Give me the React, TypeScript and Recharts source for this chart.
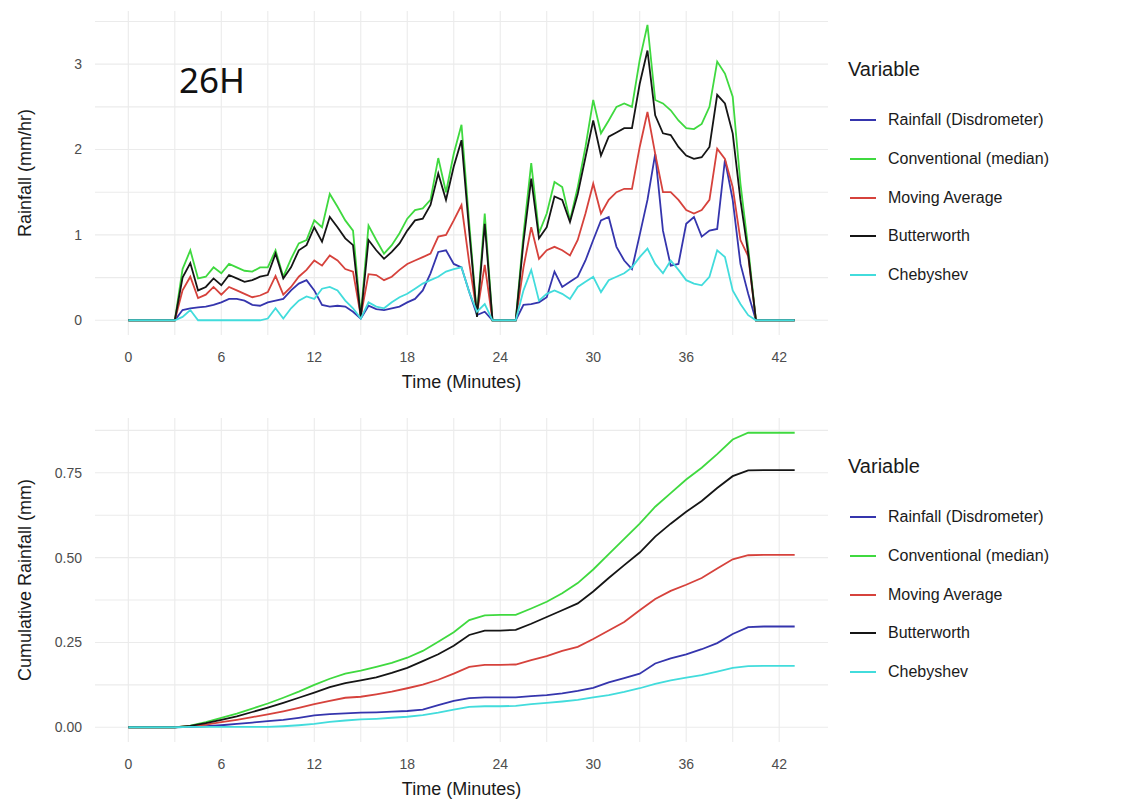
import { LineChart, Line, XAxis, YAxis, CartesianGrid } from 'recharts';

// rain-rate samples, every half minute
const rateTime = [
  0, 0.5, 1, 1.5, 2, 2.5, 3, 3.5, 4, 4.5, 5, 5.5, 6, 6.5, 7, 7.5, 8, 8.5, 9, 9.5,
  10, 10.5, 11, 11.5, 12, 12.5, 13, 13.5, 14, 14.5, 15, 15.5, 16, 16.5, 17, 17.5, 18, 18.5, 19, 19.5,
  20, 20.5, 21, 21.5, 22, 22.5, 23, 23.5, 24, 24.5, 25, 25.5, 26, 26.5, 27, 27.5, 28, 28.5, 29, 29.5,
  30, 30.5, 31, 31.5, 32, 32.5, 33, 33.5, 34, 34.5, 35, 35.5, 36, 36.5, 37, 37.5, 38, 38.5, 39, 39.5,
  40, 40.5, 41, 41.5, 42, 42.5, 43,
];

const disdrometer = [
  0, 0, 0, 0, 0, 0, 0,
  0.12, 0.14, 0.15, 0.16, 0.18, 0.21, 0.25, 0.25, 0.23, 0.18, 0.17, 0.21, 0.23, 0.25, 0.35, 0.43, 0.47, 0.35, 0.18, 0.16, 0.17, 0.16, 0.10, 0.02,
  0.17, 0.13, 0.12, 0.14, 0.16, 0.21, 0.25, 0.35, 0.55, 0.80, 0.82, 0.66, 0.62, 0.33, 0.06, 0.10,
  0, 0, 0, 0,
  0.18, 0.19, 0.21, 0.27, 0.57, 0.39, 0.45, 0.51, 0.70, 0.94, 1.17, 1.21, 0.86, 0.70, 0.60, 1.00, 1.41, 1.95, 1.05, 0.64,
  0.66, 1.13, 1.21, 0.98, 1.05, 1.07, 1.88, 1.41, 0.66, 0.31,
  0, 0, 0, 0, 0, 0,
];

const conventional = [
  0, 0, 0, 0, 0, 0, 0,
  0.60, 0.82, 0.49, 0.51, 0.62, 0.55, 0.66, 0.62, 0.58, 0.57, 0.62, 0.62, 0.82, 0.51, 0.72, 0.90, 0.94, 1.17, 1.09, 1.48, 1.33, 1.17, 1.05, 0.05,
  1.11, 0.94, 0.78, 0.88, 1.02, 1.19, 1.29, 1.31, 1.41, 1.90, 1.50, 1.95, 2.29, 1.13, 0.05, 1.25,
  0, 0, 0, 0,
  1.01, 1.84, 1.02, 1.25, 1.62, 1.56, 1.17, 1.56, 2.03, 2.58, 2.19, 2.34, 2.50, 2.54, 2.50, 3.05, 3.46, 2.58, 2.54, 2.46,
  2.34, 2.25, 2.24, 2.30, 2.50, 3.03, 2.89, 2.62, 1.60, 0.85,
  0, 0, 0, 0, 0, 0,
];

const movingAverage = [
  0, 0, 0, 0, 0, 0, 0,
  0.35, 0.51, 0.26, 0.30, 0.39, 0.30, 0.39, 0.35, 0.31, 0.27, 0.29, 0.33, 0.52, 0.30, 0.39, 0.51, 0.59, 0.70, 0.64, 0.76, 0.70, 0.60, 0.57, 0.05,
  0.54, 0.53, 0.47, 0.51, 0.59, 0.66, 0.70, 0.74, 0.78, 0.98, 1.00, 1.17, 1.35, 0.67, 0.08, 0.65,
  0, 0, 0, 0,
  0.62, 1.09, 0.72, 0.82, 0.86, 0.82, 0.76, 0.94, 1.25, 1.60, 1.25, 1.41, 1.50, 1.54, 1.54, 2.03, 2.44, 1.95, 1.50, 1.50,
  1.41, 1.29, 1.25, 1.29, 1.41, 2.01, 1.89, 1.56, 0.94, 0.75,
  0, 0, 0, 0, 0, 0,
];

const butterworth = [
  0, 0, 0, 0, 0, 0, 0,
  0.50, 0.67, 0.35, 0.39, 0.49, 0.41, 0.53, 0.49, 0.45, 0.47, 0.51, 0.53, 0.78, 0.49, 0.62, 0.82, 0.88, 1.09, 0.92, 1.21, 1.09, 0.96, 0.88, 0.03,
  0.94, 0.82, 0.72, 0.80, 0.90, 1.05, 1.17, 1.19, 1.35, 1.72, 1.41, 1.80, 2.11, 1.04, 0.04, 1.13,
  0, 0, 0, 0,
  0.92, 1.66, 0.96, 1.09, 1.45, 1.41, 1.15, 1.48, 1.91, 2.34, 1.93, 2.15, 2.20, 2.25, 2.25, 2.77, 3.16, 2.40, 2.19, 2.17,
  2.03, 1.93, 1.89, 1.91, 2.03, 2.64, 2.54, 2.19, 1.41, 0.78,
  0, 0, 0, 0, 0, 0,
];

const chebyshev = [
  0, 0, 0, 0, 0, 0, 0,
  0.04, 0.12, 0, 0, 0, 0, 0, 0, 0, 0, 0, 0.02, 0.14, 0.02, 0.14, 0.23, 0.28, 0.25, 0.37, 0.39, 0.35, 0.23, 0.14, 0.02,
  0.21, 0.16, 0.14, 0.21, 0.27, 0.31, 0.37, 0.43, 0.47, 0.51, 0.57, 0.60, 0.62, 0.33, 0.10, 0.19,
  0, 0, 0, 0,
  0.35, 0.59, 0.23, 0.31, 0.35, 0.31, 0.25, 0.39, 0.45, 0.51, 0.33, 0.47, 0.51, 0.55, 0.62, 0.74, 0.84, 0.66, 0.55, 0.70,
  0.59, 0.47, 0.43, 0.41, 0.51, 0.82, 0.74, 0.35, 0.19, 0.06,
  0, 0, 0, 0, 0, 0,
];

// accumulated depth, every minute
const cumTime = [
  0, 1, 2, 3, 4, 5, 6, 7, 8, 9, 10, 11, 12, 13, 14, 15, 16, 17, 18, 19, 20, 21,
  22, 23, 24, 25, 26, 27, 28, 29, 30, 31, 32, 33, 34, 35, 36, 37, 38, 39, 40, 41, 42, 43,
];
const cumDisdrometer = [
  0, 0, 0, 0, 0.001, 0.003, 0.006, 0.01, 0.014, 0.018, 0.022, 0.028, 0.035, 0.039, 0.041, 0.043, 0.044, 0.046, 0.048, 0.052, 0.065, 0.078,
  0.086, 0.088, 0.088, 0.088, 0.092, 0.095, 0.1, 0.107, 0.116, 0.132, 0.145, 0.158, 0.188, 0.203, 0.215, 0.23, 0.248, 0.275, 0.295, 0.297, 0.297, 0.297,
];
const cumConventional = [
  0, 0, 0, 0, 0.005, 0.015, 0.028, 0.04, 0.055, 0.07, 0.087, 0.105, 0.125, 0.143, 0.158, 0.167, 0.178, 0.19, 0.205, 0.225, 0.252, 0.28,
  0.316, 0.33, 0.331, 0.331, 0.35, 0.37, 0.395, 0.425, 0.465, 0.51, 0.555, 0.6, 0.65, 0.69, 0.73, 0.765, 0.805, 0.848, 0.868, 0.868, 0.868, 0.868,
];
const cumMovingAverage = [
  0, 0, 0, 0, 0.003, 0.008, 0.015, 0.022, 0.03, 0.038, 0.047, 0.057, 0.068, 0.078, 0.087, 0.09, 0.097, 0.105, 0.115, 0.126, 0.14, 0.158,
  0.178, 0.184, 0.184, 0.185, 0.198, 0.21, 0.225, 0.237, 0.26, 0.285, 0.31, 0.345, 0.378, 0.402, 0.42, 0.44, 0.468, 0.495, 0.507, 0.508, 0.508, 0.508,
];
const cumButterworth = [
  0, 0, 0, 0, 0.004, 0.012, 0.022, 0.032, 0.045, 0.058, 0.072, 0.087, 0.102, 0.118, 0.13, 0.138, 0.147, 0.16, 0.175, 0.195, 0.215, 0.24,
  0.272, 0.285, 0.285, 0.287, 0.305, 0.325, 0.345, 0.365, 0.4, 0.44, 0.478, 0.515, 0.562, 0.6, 0.635, 0.667, 0.705, 0.74, 0.757, 0.758, 0.758, 0.758,
];
const cumChebyshev = [
  0, 0, 0, 0, 0.001, 0.001, 0.001, 0.001, 0.001, 0.001, 0.003, 0.006, 0.01, 0.016, 0.02, 0.023, 0.025, 0.028, 0.031, 0.036, 0.043, 0.052,
  0.06, 0.062, 0.062, 0.063, 0.068, 0.072, 0.076, 0.081, 0.088, 0.095, 0.104, 0.115, 0.128, 0.138, 0.146, 0.154, 0.164, 0.175, 0.18, 0.181, 0.181, 0.181,
];

// grid breaks: majors get labels, minors are blank
const timeTicks = [0, 3, 6, 9, 12, 15, 18, 21, 24, 27, 30, 33, 36, 39, 42];
const timeLabels = [0, 6, 12, 18, 24, 30, 36, 42];
const rateTicks = [0, 0.5, 1, 1.5, 2, 2.5, 3, 3.5];
const rateLabels = [0, 1, 2, 3];
const cumTicks = [0, 0.125, 0.25, 0.375, 0.5, 0.625, 0.75, 0.875];
const cumLabels = [0, 0.25, 0.5, 0.75];

const series = [
  { key: 'disdrometer', name: 'Rainfall (Disdrometer)', color: '#3535ad' },
  { key: 'conventional', name: 'Conventional (median)', color: '#3fd93f' },
  { key: 'movingAverage', name: 'Moving Average', color: '#d6423c' },
  { key: 'butterworth', name: 'Butterworth', color: '#151515' },
  { key: 'chebyshev', name: 'Chebyshev', color: '#42dcdc' },
];

const rateData = rateTime.map((t, i) => ({
  t,
  disdrometer: disdrometer[i],
  conventional: conventional[i],
  movingAverage: movingAverage[i],
  butterworth: butterworth[i],
  chebyshev: chebyshev[i],
}));

const cumData = cumTime.map((t, i) => ({
  t,
  disdrometer: cumDisdrometer[i],
  conventional: cumConventional[i],
  movingAverage: cumMovingAverage[i],
  butterworth: cumButterworth[i],
  chebyshev: cumChebyshev[i],
}));

const FONT = '"Liberation Sans", Arial, sans-serif';
const TICK = { fontSize: 14, fill: '#4d4d4d', fontFamily: FONT };
const TITLE = { fontSize: 18, fill: '#1a1a1a', fontFamily: FONT };

function Legend({ top }: { top: number }) {
  return (
    <div style={{ position: 'absolute', left: 848, top, fontFamily: FONT, color: '#1a1a1a' }}>
      <div style={{ fontSize: 20, lineHeight: '24px', marginBottom: 20 }}>Variable</div>
      {series.map((s) => (
        <div key={s.key} style={{ display: 'flex', alignItems: 'center', height: 38.7 }}>
          <div style={{ width: 26, height: 2, background: s.color, marginLeft: 2, marginRight: 12 }} />
          <span style={{ fontSize: 16 }}>{s.name}</span>
        </div>
      ))}
    </div>
  );
}

function Panel({ data, yDomain, yTicks, yLabels, yFormat, yTitle }: {
  data: Record<string, number>[];
  yDomain: [number, number];
  yTicks: number[];
  yLabels: number[];
  yFormat: (v: number) => string;
  yTitle: string;
}) {
  return (
    <LineChart width={840} height={402} data={data} margin={{ top: 11, right: 12, left: 0, bottom: 0 }}>
      <CartesianGrid stroke="#ebebeb" strokeWidth={1.1} syncWithTicks />
      <XAxis
        dataKey="t"
        type="number"
        domain={[-2.15, 45.15]}
        ticks={timeTicks}
        interval={0}
        allowDataOverflow
        tickLine={false}
        axisLine={false}
        tickMargin={11}
        height={67}
        tick={TICK}
        tickFormatter={(v: number) => (timeLabels.includes(v) ? String(v) : '')}
        label={{ value: 'Time (Minutes)', position: 'insideBottom', offset: 14, style: TITLE }}
      />
      <YAxis
        type="number"
        domain={yDomain}
        ticks={yTicks}
        interval={0}
        allowDataOverflow
        tickLine={false}
        axisLine={false}
        tickMargin={7}
        width={95}
        tick={TICK}
        tickFormatter={(v: number) => (yLabels.includes(v) ? yFormat(v) : '')}
        label={{ value: yTitle, angle: -90, position: 'insideLeft', offset: 25, style: { ...TITLE, textAnchor: 'middle' } }}
      />
      {series.map((s) => (
        <Line
          key={s.key}
          type="linear"
          dataKey={s.key}
          name={s.name}
          stroke={s.color}
          strokeWidth={1.8}
          dot={false}
          activeDot={false}
          isAnimationActive={false}
        />
      ))}
    </LineChart>
  );
}

export default function App() {
  return (
    <div style={{ position: 'absolute', left: 0, top: 0, width: 1126, height: 805, background: '#fff' }}>
      <div style={{ position: 'absolute', left: 0, top: 0 }}>
        <Panel
          data={rateData}
          yDomain={[-0.1725, 3.6225]}
          yTicks={rateTicks}
          yLabels={rateLabels}
          yFormat={(v) => String(v)}
          yTitle="Rainfall (mm/hr)"
        />
      </div>
      <div
        style={{
          position: 'absolute', left: 179, top: 56, fontFamily: '"Noto Sans", "Open Sans", sans-serif',
          fontSize: 35, color: '#111',
        }}
      >
        26H
      </div>
      <Legend top={57} />
      <div style={{ position: 'absolute', left: 0, top: 407 }}>
        <Panel
          data={cumData}
          yDomain={[-0.0434, 0.9114]}
          yTicks={cumTicks}
          yLabels={cumLabels}
          yFormat={(v) => v.toFixed(2)}
          yTitle="Cumulative Rainfall (mm)"
        />
      </div>
      <Legend top={454} />
    </div>
  );
}
